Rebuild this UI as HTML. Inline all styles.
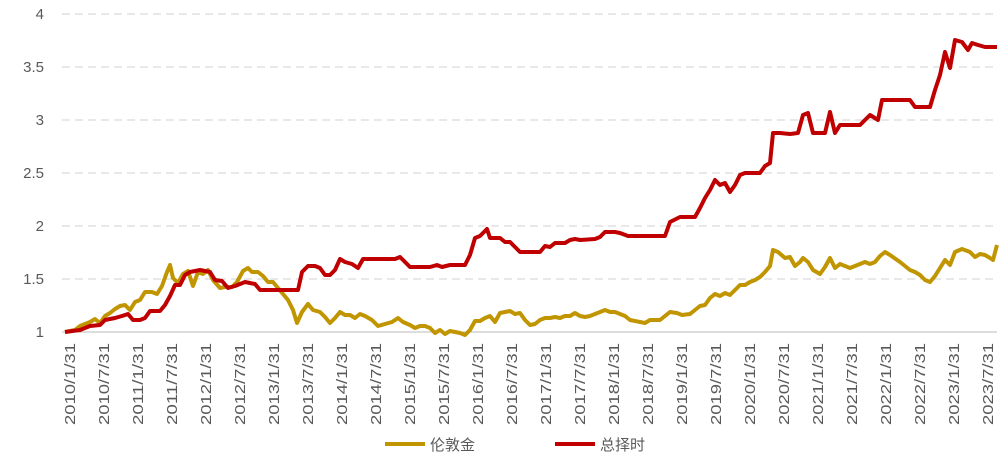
<!DOCTYPE html>
<html><head><meta charset="utf-8"><style>
body{margin:0;background:#fff}
svg text{font-family:"Liberation Sans","Noto Sans CJK SC",sans-serif;fill:#595959}
</style></head><body>
<svg width="1005" height="465" viewBox="0 0 1005 465" xmlns="http://www.w3.org/2000/svg">
<g stroke="#d0d0d0" stroke-dasharray="8,5" stroke-width="1">
<line x1="62" y1="14" x2="997" y2="14"/><line x1="62" y1="67" x2="997" y2="67"/>
<line x1="62" y1="120" x2="997" y2="120"/><line x1="62" y1="173" x2="997" y2="173"/>
<line x1="62" y1="226" x2="997" y2="226"/><line x1="62" y1="279" x2="997" y2="279"/>
</g>
<line x1="62" y1="332" x2="997" y2="332" stroke="#bbb"/>
<g font-size="15" text-anchor="end">
<text x="44" y="19">4</text><text x="44" y="72">3.5</text><text x="44" y="125">3</text>
<text x="44" y="178">2.5</text><text x="44" y="231">2</text><text x="44" y="284">1.5</text><text x="44" y="337">1</text>
</g>
<g font-size="15" text-anchor="end" lengthAdjust="spacingAndGlyphs">
<text textLength="82" lengthAdjust="spacingAndGlyphs" transform="translate(75,343) rotate(-90)">2010/1/31</text>
<text textLength="82" lengthAdjust="spacingAndGlyphs" transform="translate(109,343) rotate(-90)">2010/7/31</text>
<text textLength="82" lengthAdjust="spacingAndGlyphs" transform="translate(143,343) rotate(-90)">2011/1/31</text>
<text textLength="82" lengthAdjust="spacingAndGlyphs" transform="translate(177,343) rotate(-90)">2011/7/31</text>
<text textLength="82" lengthAdjust="spacingAndGlyphs" transform="translate(211,343) rotate(-90)">2012/1/31</text>
<text textLength="82" lengthAdjust="spacingAndGlyphs" transform="translate(245,343) rotate(-90)">2012/7/31</text>
<text textLength="82" lengthAdjust="spacingAndGlyphs" transform="translate(279,343) rotate(-90)">2013/1/31</text>
<text textLength="82" lengthAdjust="spacingAndGlyphs" transform="translate(313,343) rotate(-90)">2013/7/31</text>
<text textLength="82" lengthAdjust="spacingAndGlyphs" transform="translate(347,343) rotate(-90)">2014/1/31</text>
<text textLength="82" lengthAdjust="spacingAndGlyphs" transform="translate(381,343) rotate(-90)">2014/7/31</text>
<text textLength="82" lengthAdjust="spacingAndGlyphs" transform="translate(415,343) rotate(-90)">2015/1/31</text>
<text textLength="82" lengthAdjust="spacingAndGlyphs" transform="translate(449,343) rotate(-90)">2015/7/31</text>
<text textLength="82" lengthAdjust="spacingAndGlyphs" transform="translate(483,343) rotate(-90)">2016/1/31</text>
<text textLength="82" lengthAdjust="spacingAndGlyphs" transform="translate(517,343) rotate(-90)">2016/7/31</text>
<text textLength="82" lengthAdjust="spacingAndGlyphs" transform="translate(551,343) rotate(-90)">2017/1/31</text>
<text textLength="82" lengthAdjust="spacingAndGlyphs" transform="translate(585,343) rotate(-90)">2017/7/31</text>
<text textLength="82" lengthAdjust="spacingAndGlyphs" transform="translate(619,343) rotate(-90)">2018/1/31</text>
<text textLength="82" lengthAdjust="spacingAndGlyphs" transform="translate(653,343) rotate(-90)">2018/7/31</text>
<text textLength="82" lengthAdjust="spacingAndGlyphs" transform="translate(687,343) rotate(-90)">2019/1/31</text>
<text textLength="82" lengthAdjust="spacingAndGlyphs" transform="translate(721,343) rotate(-90)">2019/7/31</text>
<text textLength="82" lengthAdjust="spacingAndGlyphs" transform="translate(755,343) rotate(-90)">2020/1/31</text>
<text textLength="82" lengthAdjust="spacingAndGlyphs" transform="translate(789,343) rotate(-90)">2020/7/31</text>
<text textLength="82" lengthAdjust="spacingAndGlyphs" transform="translate(823,343) rotate(-90)">2021/1/31</text>
<text textLength="82" lengthAdjust="spacingAndGlyphs" transform="translate(857,343) rotate(-90)">2021/7/31</text>
<text textLength="82" lengthAdjust="spacingAndGlyphs" transform="translate(891,343) rotate(-90)">2022/1/31</text>
<text textLength="82" lengthAdjust="spacingAndGlyphs" transform="translate(925,343) rotate(-90)">2022/7/31</text>
<text textLength="82" lengthAdjust="spacingAndGlyphs" transform="translate(959,343) rotate(-90)">2023/1/31</text>
<text textLength="82" lengthAdjust="spacingAndGlyphs" transform="translate(993,343) rotate(-90)">2023/7/31</text>
</g>
<polyline fill="none" stroke="#c09500" stroke-width="4" stroke-linejoin="round" points="65,332 75,330 80,326 90,322 95,319 100,323 105,316 110,313 115,309 120,306 125,305 130,310 135,302 140,300 145,292 152,292 157,294 162,286 167,272 170,265 173,278 178,283 183,274 188,271 193,286 198,272 203,274 208,270 213,280 220,288 225,287 232,287 237,282 243,271 248,268 252,272 258,272 263,276 268,282 273,282 278,288 283,294 288,300 293,310 297,323 302,312 308,304 313,310 320,312 325,317 330,323 335,318 340,312 345,315 350,315 355,318 360,314 365,316 372,320 378,326 385,324 392,322 398,318 403,322 410,325 415,328 420,326 425,326 430,328 435,333 440,330 445,334 450,331 455,332 460,333 465,335 470,330 475,321 480,321 485,318 490,316 495,322 500,313 505,312 510,311 515,314 520,313 525,320 530,325 535,324 540,320 545,318 550,318 555,317 560,318 565,316 570,316 575,313 580,316 585,317 590,316 595,314 600,312 605,310 610,312 615,312 620,314 625,316 630,320 640,322 645,323 650,320 660,320 665,316 670,312 677,313 682,315 690,314 695,310 700,306 705,305 710,298 715,294 720,296 725,293 730,295 735,290 740,285 745,285 750,282 755,280 760,277 765,272 770,266 773,250 778,252 785,258 790,257 795,266 800,262 803,258 808,262 813,270 820,274 825,267 830,258 835,268 840,264 845,266 850,268 855,266 860,264 865,262 870,264 875,262 880,256 885,252 890,255 900,262 905,266 910,270 915,272 920,275 925,280 930,282 935,276 940,268 945,260 950,265 955,252 962,249 970,252 975,257 980,254 985,255 990,258 993,260 997,245"/>
<polyline fill="none" stroke="#c00000" stroke-width="4" stroke-linejoin="round" points="65,332 80,330 90,326 100,325 105,320 115,318 122,316 128,314 133,320 140,320 145,318 150,311 160,311 165,305 170,296 175,285 180,285 185,275 190,272 200,270 210,272 215,280 222,281 228,288 235,286 245,282 255,284 260,290 270,290 280,290 290,290 298,290 302,272 308,266 315,266 320,268 325,275 330,275 335,270 340,259 345,262 352,264 358,268 363,259 370,259 380,259 395,259 400,257 405,262 410,267 420,267 430,267 437,265 442,267 450,265 465,265 470,255 475,238 480,236 487,229 490,238 500,238 505,242 510,242 515,247 520,252 530,252 540,252 545,246 550,247 555,243 565,243 570,240 575,239 580,240 595,239 600,237 605,232 615,232 620,233 628,236 640,236 655,236 665,236 670,222 680,217 695,217 700,208 705,198 710,190 715,180 720,185 725,183 730,192 735,185 740,175 745,173 760,173 765,166 770,163 773,133 780,133 790,134 798,133 803,115 808,113 813,133 825,133 830,112 835,133 840,125 845,125 860,125 865,120 870,115 878,120 882,100 890,100 910,100 915,107 930,107 935,90 940,75 945,52 950,68 955,40 962,42 968,50 972,43 978,45 985,47 997,47"/>
<line x1="385" y1="444" x2="425" y2="444" stroke="#c09500" stroke-width="4"/>
<text x="430" y="450" font-size="15">伦敦金</text>
<line x1="555" y1="444" x2="595" y2="444" stroke="#c00000" stroke-width="4"/>
<text x="600" y="450" font-size="15">总择时</text>
</svg>
</body></html>
